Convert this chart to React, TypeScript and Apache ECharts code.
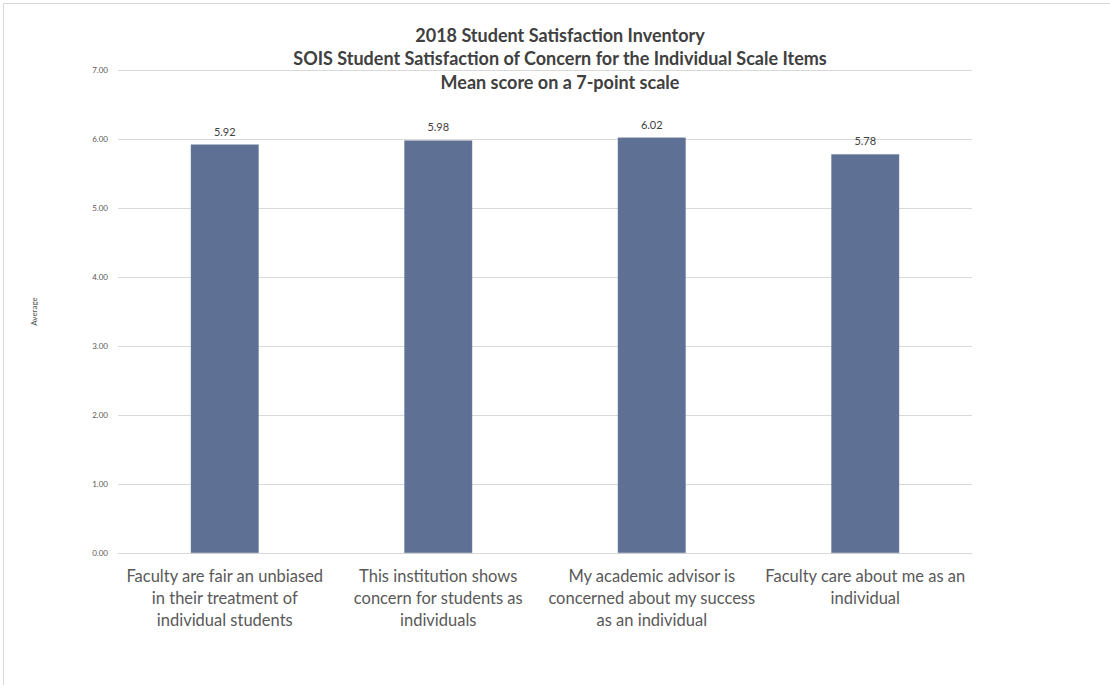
import React, { useEffect, useRef } from "react";
import * as echarts from "echarts";

const titleLines = [
  "2018 Student Satisfaction Inventory",
  "SOIS Student Satisfaction of Concern for the Individual Scale Items",
  "Mean score on a 7-point scale",
];
const categories = [
  "Faculty are fair an unbiased\nin their treatment of\nindividual students",
  "This institution shows\nconcern for students as\nindividuals",
  "My academic advisor is\nconcerned about my success\nas an individual",
  "Faculty care about me as an\nindividual",
];
const values = [5.92, 5.98, 6.02, 5.78];
const yAxisName = "Average";

export default function App() {
  const ref = useRef<HTMLDivElement>(null);
  useEffect(() => {
    document.body.style.margin = "0";
    const chart = echarts.init(ref.current!, null, { renderer: "svg" });
    const font = "Lato, 'Open Sans', sans-serif";
    chart.setOption({
      animation: false,
      backgroundColor: "#ffffff",
      textStyle: { fontFamily: font },
      title: {
        text: titleLines.join("\n"),
        left: 555,
        top: 18,
        textAlign: "center",
        textStyle: {
          fontFamily: font,
          fontSize: 18,
          fontWeight: "bold",
          color: "#404040",
          lineHeight: 23.5,
        },
      },
      graphic: [
        {
          type: "rect",
          shape: { x: 3.5, y: 3.5, width: 1120, height: 700 },
          style: { fill: "none", stroke: "#d9d9d9", lineWidth: 1 },
          silent: true,
        },
      ],
      grid: { left: 118, right: 138, top: 70, bottom: 132, containLabel: false },
      xAxis: {
        type: "category",
        data: categories,
        axisTick: { show: false },
        axisLine: { lineStyle: { color: "#d9d9d9" } },
        axisLabel: {
          interval: 0,
          margin: 12,
          fontSize: 16.5,
          lineHeight: 22,
          color: "#595959",
          fontFamily: font,
        },
      },
      yAxis: {
        type: "value",
        min: 0,
        max: 7,
        interval: 1,
        name: yAxisName,
        nameLocation: "middle",
        nameGap: 80,
        nameRotate: 90,
        nameTextStyle: { fontSize: 8, color: "#595959", fontFamily: font },
        axisLine: { show: false },
        axisTick: { show: false },
        axisLabel: {
          margin: 10,
          fontSize: 8,
          color: "#595959",
          fontFamily: font,
          formatter: (v: number) => v.toFixed(2),
        },
        splitLine: { lineStyle: { color: "#d9d9d9", width: 1 } },
      },
      series: [
        {
          type: "bar",
          data: values,
          barWidth: 68,
          itemStyle: { color: "#5E7093", borderColor: "#7585a3", borderWidth: 0.5 },
          label: {
            show: true,
            position: "top",
            distance: 8,
            fontSize: 11,
            color: "#404040",
            fontFamily: font,
            formatter: (p: any) => p.value.toFixed(2),
          },
        },
      ],
    });
    return () => chart.dispose();
  }, []);
  return (
    <div
      ref={ref}
      style={{ position: "absolute", left: 0, top: 0, width: 1110, height: 685 }}
    />
  );
}
